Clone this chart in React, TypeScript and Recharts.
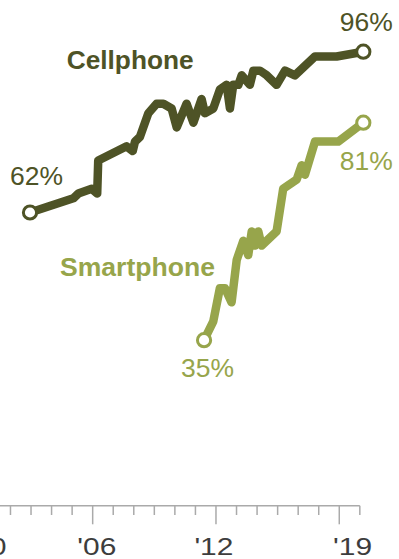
import { LineChart, Line, XAxis, YAxis, ReferenceLine } from "recharts";

// survey dates (fractional years) and % of adults
const cellYears = [
  2002.95, 2005.06, 2005.3, 2005.95, 2006.22, 2006.27, 2007.65, 2007.95, 2008.06, 2008.3,
  2008.71, 2009.11, 2009.44, 2009.84, 2010.09, 2010.57, 2010.9, 2011.3, 2011.46, 2011.87,
  2012.19, 2012.52, 2012.68, 2012.84, 2013.09, 2013.25, 2013.65, 2013.82, 2014.14, 2014.47,
  2014.95, 2015.36, 2015.84, 2016.82, 2017.87, 2019.17,
];
const cellValues = [
  62, 65, 66, 67, 66, 73, 76, 75, 77, 78,
  83, 85, 85, 84, 80, 85, 81, 86, 83, 84,
  88, 89, 84, 89, 89, 91, 89, 92, 92, 91,
  89, 92, 91, 95, 95, 96,
];

const smartYears = [
  2011.42, 2011.87, 2012.19, 2012.44, 2012.76, 2013.01, 2013.33, 2013.57, 2013.74, 2013.9,
  2014.06, 2014.22, 2014.95, 2015.27, 2015.93, 2016.17, 2016.33, 2016.82, 2017.95, 2019.17,
];
const smartValues = [
  35, 39, 46, 46, 43, 52, 56, 53, 58, 55,
  58, 55, 58, 67, 69, 72, 70, 77, 77, 81,
];

const tickYears = [
  2000, 2001, 2002, 2003, 2004, 2005, 2006, 2007, 2008, 2009,
  2010, 2011, 2012, 2013, 2014, 2015, 2016, 2017, 2018, 2019,
];
const majorTickYears = [2006, 2012, 2018];
const tickLabelAt = [2000.2, 2006.2, 2011.9, 2018.65];
const tickLabels = ["2000", "'06", "'12", "'19"];

const DARK = "#4e5326";
const LIGHT = "#97a54b";
const AXIS = "#aaaaaa";
const FONT = "'Liberation Sans', Arial, sans-serif";

const cellData = cellYears.map((year, i) => ({ year, value: cellValues[i] }));
const smartData = smartYears.map((year, i) => ({ year, value: smartValues[i] }));
const allTicks = [...tickYears, ...tickLabelAt].sort((a, b) => a - b);

// year ticks get a mark, label positions get text
function YearTick(props: any) {
  const { x, y, payload } = props;
  const li = tickLabelAt.indexOf(payload.value);
  if (li >= 0) {
    const label = tickLabels[li];
    const w = label.replace("'", "").length * 16.5 + (label.includes("'") ? 6 : 0);
    return (
      <text x={x} y={y + 49.3} textAnchor="middle" fill="#3d3d3d" fontSize={24} fontFamily={FONT}
        textLength={w} lengthAdjust="spacingAndGlyphs">
        {label}
      </text>
    );
  }
  const major = majorTickYears.includes(payload.value);
  return <line x1={x} x2={x} y1={y} y2={y + (major ? 18.6 : 9.3)} stroke={AXIS} strokeWidth={1.5} />;
}

function endDot(color: string, last: number) {
  return (props: any) => {
    const { cx, cy, index } = props;
    if (index !== 0 && index !== last) return <g key={`d${index}`} />;
    return <circle key={`d${index}`} cx={cx} cy={cy} r={6.6} fill="#fff" stroke={color} strokeWidth={3} />;
  };
}

// offsets for start / end value labels
function endLabel(color: string, last: number, start: [number, number], end: [number, number]) {
  return (props: any) => {
    const { x, y, value, index } = props;
    if (index !== 0 && index !== last) return <g key={`l${index}`} />;
    const [dx, dy] = index === 0 ? start : end;
    return (
      <text key={`l${index}`} x={x + dx} y={y + dy} textAnchor="middle" fill={color} fontSize={25}
        fontFamily={FONT} textLength={53} lengthAdjust="spacingAndGlyphs">
        {`${value}%`}
      </text>
    );
  };
}

export default function App() {
  return (
    <div style={{ position: "absolute", left: 0, top: 0, width: 399, height: 559, background: "#fff" }}>
      <LineChart width={399} height={559} margin={{ top: 32.8, right: 28.9, bottom: 52.3, left: -40.9 }}>
        <XAxis dataKey="year" type="number" domain={[1999.5, 2019.5]} ticks={allTicks}
          interval={0} height={1} axisLine={false} tickLine={false} tickSize={0} tickMargin={0} tick={<YearTick />} />
        <YAxis hide width={0} type="number" domain={[0, 100]} />
        <ReferenceLine segment={[{ x: 1999.5, y: 0 }, { x: 2019, y: 0 }]} stroke={AXIS} strokeWidth={1.5} />
        <Line data={cellData} dataKey="value" type="linear" stroke={DARK} strokeWidth={8.5}
          strokeLinejoin="round" dot={endDot(DARK, cellData.length - 1)} activeDot={false}
          label={endLabel(DARK, cellData.length - 1, [6.5, -27.5], [3, -20.7])} isAnimationActive={false} />
        <Line data={smartData} dataKey="value" type="linear" stroke={LIGHT} strokeWidth={8.5}
          strokeLinejoin="round" dot={endDot(LIGHT, smartData.length - 1)} activeDot={false}
          label={endLabel(LIGHT, smartData.length - 1, [3.5, 37], [3, 47.5])} isAnimationActive={false} />
      </LineChart>
      <svg width={399} height={559} style={{ position: "absolute", left: 0, top: 0, pointerEvents: "none" }}>
        <text x={66.7} y={69} fill={DARK} fontSize={25} fontWeight="bold" fontFamily={FONT}
          textLength={127} lengthAdjust="spacingAndGlyphs">Cellphone</text>
        <text x={60} y={275.5} fill={LIGHT} fontSize={25} fontWeight="bold" fontFamily={FONT}
          textLength={155} lengthAdjust="spacingAndGlyphs">Smartphone</text>
      </svg>
    </div>
  );
}
